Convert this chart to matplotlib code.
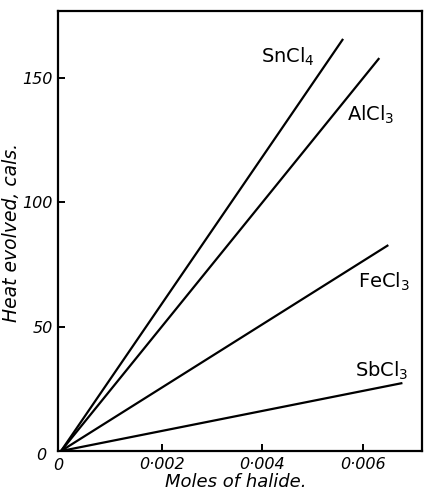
import matplotlib.pyplot as plt
import numpy as np

# end points of each straight line (all start at the origin)
halides = ["SnCl$_4$", "AlCl$_3$", "FeCl$_3$", "SbCl$_3$"]
moles_end = [0.00561, 0.00633, 0.00651, 0.00679]
heat_end = [165.5, 157.8, 82.7, 27.3]

x_ticks = [0.002, 0.004, 0.006]
x_ticklabels = ["0·002", "0·004", "0·006"]
y_ticks = [50, 100, 150]

# label anchor positions in data units (left edge, vertical centre)
label_pos = [(0.00398, 158.2), (0.00569, 134.9), (0.00591, 67.9), (0.00585, 32.1)]

plt.rcParams["font.family"] = "DejaVu Sans"
plt.rcParams["mathtext.fontset"] = "dejavusans"

fig = plt.figure(figsize=(4.25, 4.92), dpi=100)
ax = fig.add_axes([0.1365, 0.0833, 0.8565, 0.8943])

for name, xe, ye, (lx, ly) in zip(halides, moles_end, heat_end, label_pos):
    ax.plot([0, xe], [0, ye], color="black", linewidth=1.6, solid_capstyle="butt")
    ax.text(lx, ly, name, fontsize=14, color="black", ha="left", va="center")

ax.set_xlim(-0.00006, 0.00718)
ax.set_ylim(0, 176.7)

ax.set_xticks(x_ticks)
ax.set_xticklabels(x_ticklabels, fontstyle="italic", fontsize=11.5)
ax.set_yticks(y_ticks)
ax.set_yticklabels([str(v) for v in y_ticks], fontstyle="italic", fontsize=11.5)
ax.tick_params(direction="in", length=5, width=1.4, pad=4)

# the two zero labels at the origin
ax.text(-0.00006, -6.0, "0", fontstyle="italic", fontsize=11.5, ha="center", va="center")
ax.text(-0.00040, -1.6, "0", fontstyle="italic", fontsize=11.5, ha="center", va="center")

for spine in ax.spines.values():
    spine.set_linewidth(1.6)

fig.text(236 / 425, 1 - 482 / 492, "Moles of halide.", fontstyle="italic",
         fontsize=13, ha="center", va="center")
fig.text(12 / 425, 1 - 232 / 492, "Heat evolved, cals.", fontstyle="italic",
         fontsize=13.5, ha="center", va="center", rotation=90)

fig.savefig("out.png", dpi=100, facecolor="white")
